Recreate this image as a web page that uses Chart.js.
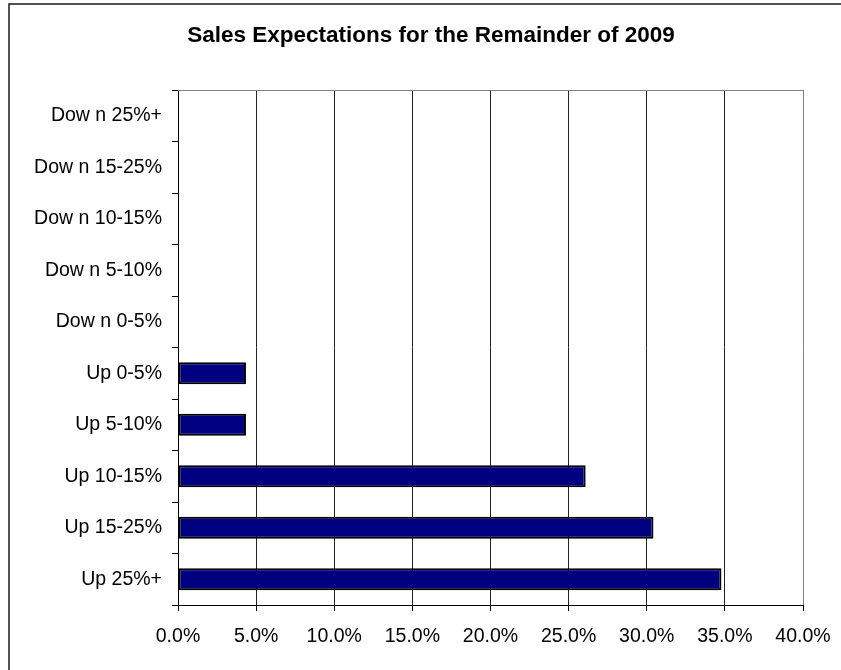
<!DOCTYPE html>
<html>
<head>
<meta charset="utf-8">
<title>Sales Expectations for the Remainder of 2009</title>
<script src="https://cdn.jsdelivr.net/npm/chart.js@4/dist/chart.umd.min.js"></script>
<style>
  html, body { margin: 0; padding: 0; background: #fff; }
  canvas { display: block; }
</style>
</head>
<body>
<canvas id="salesChart" width="841" height="670"></canvas>
<script>
const chartTitle = "Sales Expectations for the Remainder of 2009";
const categories = [
  "Dow n 25%+", "Dow n 15-25%", "Dow n 10-15%", "Dow n 5-10%", "Dow n 0-5%",
  "Up 0-5%", "Up 5-10%", "Up 10-15%", "Up 15-25%", "Up 25%+"
];
const shares = [0, 0, 0, 0, 0, 4.35, 4.35, 26.09, 30.43, 34.78];
const xTicks = [0, 5, 10, 15, 20, 25, 30, 35, 40];

const FONT = "'Liberation Sans', Arial, sans-serif";

// outer frame (left + top edge), the title, and the grey top edge of the plot
const framePlugin = {
  id: "frame",
  beforeDraw(chart) {
    const ctx = chart.ctx;
    ctx.save();
    ctx.fillStyle = "#fff";
    ctx.fillRect(0, 0, chart.width, chart.height);
    ctx.strokeStyle = "#1a1a1a";
    ctx.lineWidth = 1.5;
    ctx.beginPath();
    ctx.moveTo(9, chart.height);
    ctx.lineTo(9, 4);
    ctx.lineTo(chart.width, 4);
    ctx.stroke();

    ctx.fillStyle = "#000";
    ctx.font = "bold 22.5px " + FONT;
    ctx.textAlign = "center";
    ctx.textBaseline = "middle";
    ctx.fillText(chartTitle, 431, 36);
    ctx.restore();
  },
  afterDatasetsDraw(chart) {
    const a = chart.chartArea;
    const ctx = chart.ctx;
    ctx.save();
    ctx.strokeStyle = "#808080";
    ctx.lineWidth = 1;
    ctx.beginPath();
    ctx.moveTo(a.left, Math.round(a.top) + 0.5);
    ctx.lineTo(a.right, Math.round(a.top) + 0.5);
    ctx.stroke();
    ctx.restore();
  }
};

new Chart(document.getElementById("salesChart"), {
  type: "bar",
  data: {
    labels: categories,
    datasets: [{
      data: shares,
      backgroundColor: "#000080",
      borderColor: "#000",
      borderWidth: 2,
      borderSkipped: false,
      barPercentage: 0.43,
      categoryPercentage: 1
    }]
  },
  options: {
    indexAxis: "y",
    responsive: false,
    animation: false,
    layout: { padding: { left: 0, right: 38, top: 90, bottom: 0 } },
    plugins: {
      legend: { display: false },
      tooltip: { enabled: false },
      title: { display: false }
    },
    scales: {
      x: {
        min: 0,
        max: 40,
        afterBuildTicks(scale) {
          scale.ticks = xTicks.map(v => ({ value: v }));
        },
        afterFit(scale) {
          scale.height = 65;
          scale.paddingLeft = 0;
          scale.paddingRight = 0;
        },
        border: { display: true, color: "#000", width: 1 },
        grid: {
          color: ctx => (ctx.tick && ctx.tick.value === 40 ? "#808080" : "#222"),
          tickColor: "#000",
          tickLength: 6,
          lineWidth: 1
        },
        ticks: {
          color: "#000",
          padding: 14,
          maxRotation: 0,
          font: { family: FONT, size: 19.5 },
          callback: v => v.toFixed(1) + "%"
        }
      },
      y: {
        afterFit(scale) { scale.width = 178; },
        border: { display: true, color: "#000", width: 1 },
        grid: {
          drawOnChartArea: false,
          color: "#000",
          tickLength: 6
        },
        ticks: {
          color: "#000",
          padding: 10,
          font: { family: FONT, size: 19.5 }
        }
      }
    }
  },
  plugins: [framePlugin]
});
</script>
</body>
</html>
